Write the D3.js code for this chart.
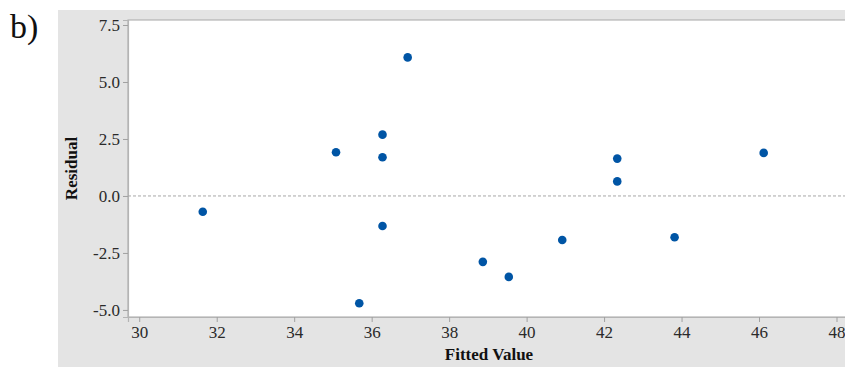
<!DOCTYPE html>
<html><head><meta charset="utf-8">
<script src="https://cdn.jsdelivr.net/npm/d3@7"></script>
<style>body{margin:0;background:#fff;} svg{display:block;}</style>
</head><body>
<svg id="chart" width="845" height="367" font-family="Liberation Serif, Times New Roman, serif"></svg>
<script>
const fitted =   [31.64, 35.08, 36.28, 36.28, 36.28, 35.68, 36.93, 38.87, 39.54, 40.92, 42.34, 42.34, 43.82, 46.12];
const residual = [-0.69, 1.92, 2.69, 1.70, -1.32, -4.71, 6.08, -2.89, -3.55, -1.93, 1.64, 0.64, -1.81, 1.89];
const xTicks = [30, 32, 34, 36, 38, 40, 42, 44, 46, 48];
const yTicks = [-5.0, -2.5, 0.0, 2.5, 5.0, 7.5];

const SERIF = "Liberation Serif, Times New Roman, serif";
const svg = d3.select("#chart");
const plot = {left: 128, right: 852, top: 20, bottom: 317};
const x = d3.scaleLinear().domain([29.71, 48.4]).range([plot.left, plot.right]);
const y = d3.scaleLinear().domain([-5.31, 7.72]).range([plot.bottom, plot.top]);

// gray background panel
svg.append("rect").attr("x", 58).attr("y", 10).attr("width", 800).attr("height", 357).attr("fill", "#e4e4e4");
// white plot area
svg.append("rect").attr("x", plot.left).attr("y", plot.top)
  .attr("width", plot.right - plot.left).attr("height", plot.bottom - plot.top)
  .attr("fill", "#fff").attr("stroke", "#b4b4b4").attr("stroke-width", 1.2);

// axes
const xAxis = svg.append("g").attr("transform", `translate(0,${plot.bottom})`)
  .call(d3.axisBottom(x).tickValues(xTicks).tickSize(5).tickPadding(4).tickFormat(d => String(d)));
const yAxis = svg.append("g").attr("transform", `translate(${plot.left},0)`)
  .call(d3.axisLeft(y).tickValues(yTicks).tickSize(5).tickPadding(3).tickFormat(d => d.toFixed(1)));
[xAxis, yAxis].forEach(a => {
  a.attr("font-family", SERIF).attr("font-size", 17);
  a.select(".domain").attr("stroke", "#b4b4b4").attr("stroke-width", 1.2);
  a.selectAll(".tick line").attr("stroke", "#a0a0a0");
  a.selectAll(".tick text").attr("fill", "#2a2a2a");
});

// zero reference line
svg.append("line").attr("x1", plot.left).attr("x2", plot.right)
  .attr("y1", y(0)).attr("y2", y(0))
  .attr("stroke", "#a8a8a8").attr("stroke-width", 1).attr("stroke-dasharray", "3,2");

// points
svg.append("g").selectAll("circle").data(fitted.map((f, i) => [f, residual[i]]))
  .join("circle").attr("cx", d => x(d[0])).attr("cy", d => y(d[1])).attr("r", 4.3)
  .attr("fill", "#0055a5");

// axis titles
svg.append("text").attr("x", 489).attr("y", 360).attr("text-anchor", "middle")
  .attr("font-family", SERIF).attr("font-size", 17).attr("font-weight", "bold").attr("fill", "#111").text("Fitted Value");
svg.append("text").attr("transform", `translate(77,${(plot.top + plot.bottom) / 2}) rotate(-90)`)
  .attr("text-anchor", "middle").attr("font-family", SERIF).attr("font-size", 17).attr("font-weight", "bold")
  .attr("fill", "#111").text("Residual");

// panel label
svg.append("text").attr("x", 10).attr("y", 38).attr("font-family", SERIF).attr("font-size", 34).attr("fill", "#111").text("b)");
</script>
</body></html>
